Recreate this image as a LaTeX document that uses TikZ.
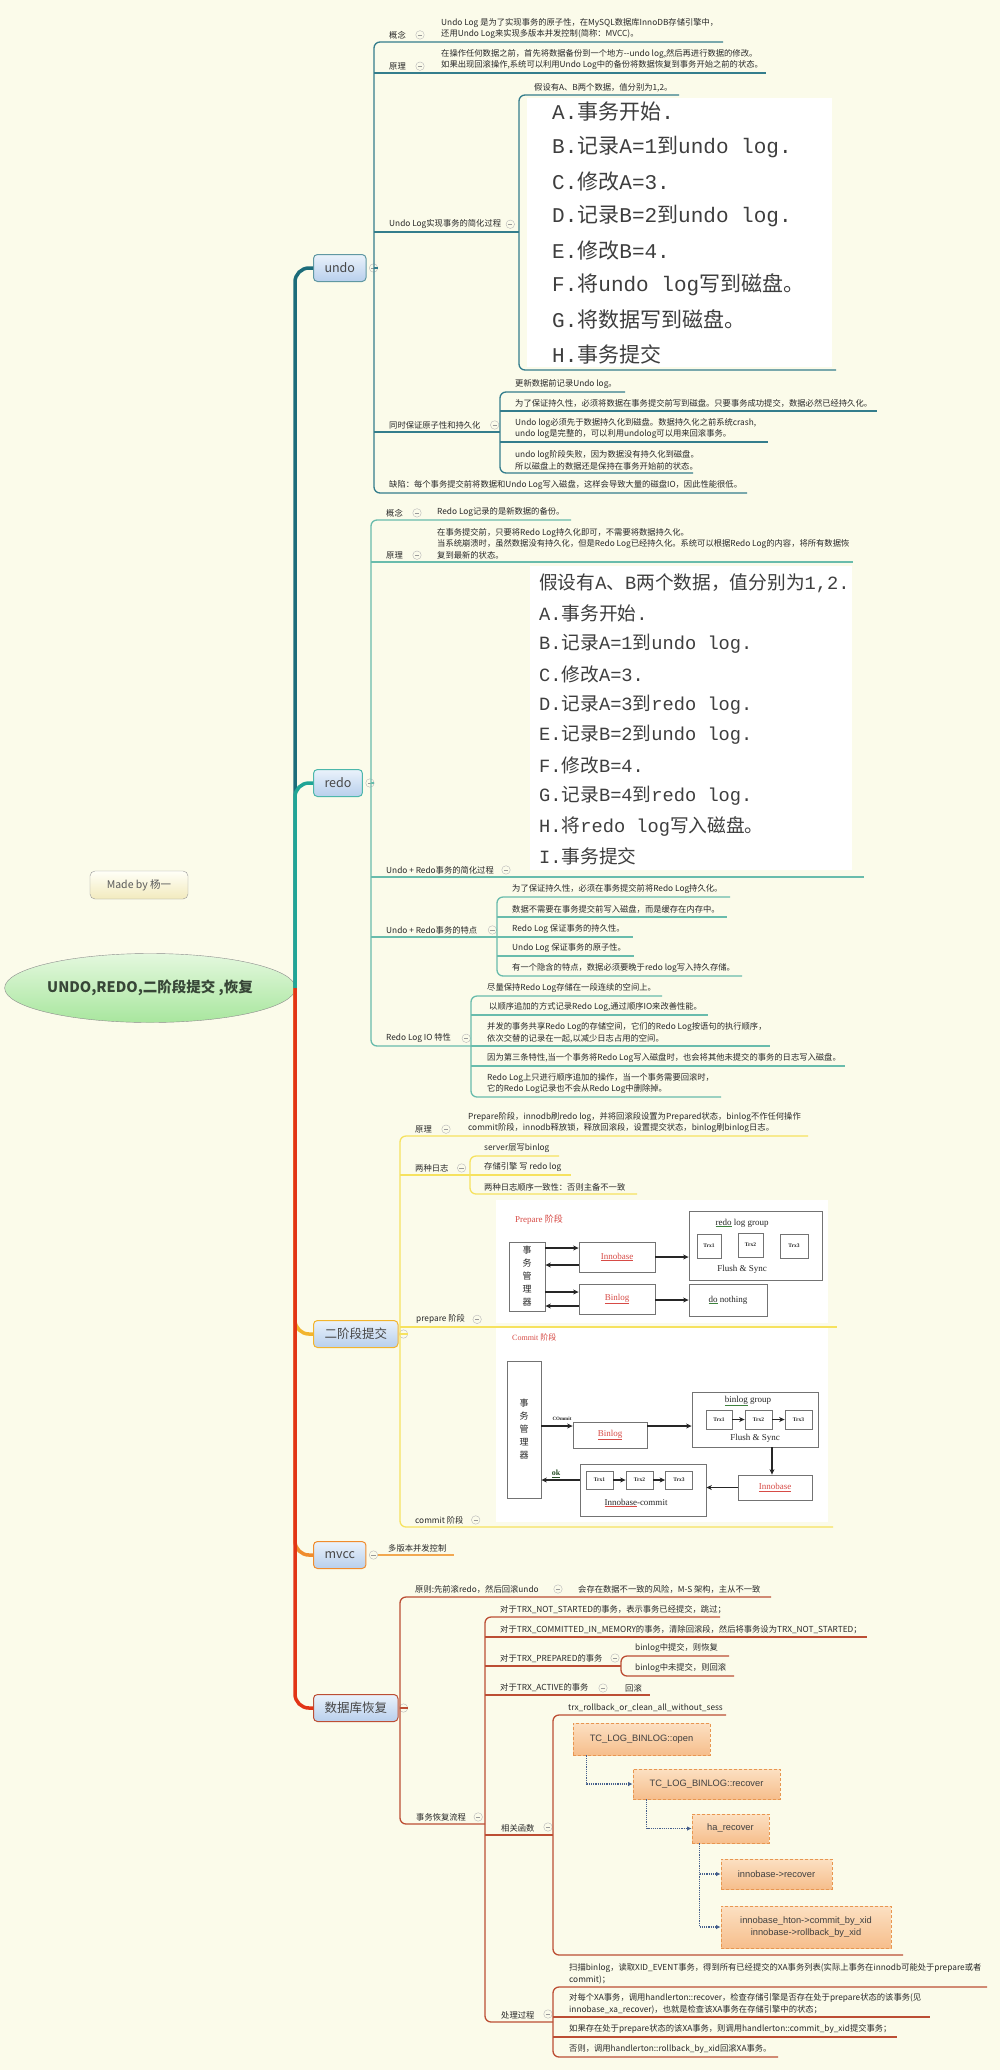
\documentclass[tikz,border=0pt]{standalone}
\usepackage{fontspec}
\setmainfont{Noto Sans CJK SC}
\newfontfamily\fmono{Liberation Mono}
\newfontfamily\fserif{Liberation Serif}
\newfontfamily\fsans{Liberation Sans}
\usetikzlibrary{arrows.meta,shapes.geometric,calc}
\newcommand\mt[1]{{\fmono #1}}
\definecolor{bg}{RGB}{251,251,234}
\definecolor{undoM}{RGB}{28,108,122}
\definecolor{redoM}{RGB}{32,165,150}
\definecolor{twoM}{RGB}{242,180,45}
\definecolor{mvccM}{RGB}{240,140,45}
\definecolor{recM}{RGB}{226,52,22}
\definecolor{undoL}{RGB}{52,125,140}
\definecolor{redoL}{RGB}{105,188,172}
\definecolor{twoL}{RGB}{246,226,95}
\definecolor{mvccL}{RGB}{242,168,80}
\definecolor{recL}{RGB}{188,78,52}
\definecolor{txt}{RGB}{40,40,40}
\definecolor{bigtxt}{RGB}{62,62,62}
\definecolor{redtxt}{RGB}{215,75,70}
\definecolor{grnul}{RGB}{60,130,60}
\definecolor{mtop}{RGB}{234,242,251}
\definecolor{mbot}{RGB}{184,207,236}
\definecolor{ftop}{RGB}{252,224,194}
\definecolor{fbot}{RGB}{246,190,140}
\definecolor{fbord}{RGB}{232,150,80}
\definecolor{fconn}{RGB}{70,95,140}
\newcommand\gul[1]{\rlap{\color{grnul}\underline{\phantom{#1}}}#1}
\newcommand\rul[1]{{\color{redtxt}\underline{#1}}}
\tikzset{
 brl/.style={draw=#1, line width=1.3pt},
 lf/.style={anchor=south west, inner sep=0pt, align=left, font=\fontsize{8.3}{11.5}\selectfont, text=txt},
 cl/.style={circle, draw=black!28, fill=bg, minimum size=8.5pt, inner sep=0pt, path picture={\draw[black!40, line width=0.6pt] ([xshift=-2.2pt]path picture bounding box.center) -- ([xshift=2.2pt]path picture bounding box.center);}},
 mn/.style={anchor=west, rounded corners=4pt, line width=1pt, minimum height=27pt, inner xsep=11pt, top color=mtop, bottom color=mbot, font=\fontsize{12.5}{14}\selectfont, text=black!72},
 mainl/.style={line width=3.5pt, rounded corners=14pt},
 bigu/.style={anchor=west, inner sep=0pt, font=\fontsize{21}{25}\selectfont, text=bigtxt},
 bigr/.style={anchor=west, inner sep=0pt, font=\fontsize{18.7}{22}\selectfont, text=bigtxt},
 img/.style={anchor=north west, fill=white, inner sep=0pt},
 db/.style={draw=black!55, line width=0.8pt, fill=white, inner sep=0pt, font=\fserif\fontsize{9}{11}\selectfont, text=black!85},
 trx/.style={db, font=\fserif\bfseries\fontsize{5.5}{6}\selectfont},
 dtxt/.style={inner sep=0pt, font=\fserif\fontsize{9}{11}\selectfont, text=black!85},
 arr/.style={line width=1.3pt, draw=black!85, -{Stealth[length=5.5pt,width=5pt]}},
 fb/.style={draw=fbord, densely dashed, line width=0.8pt, top color=ftop, bottom color=fbot, inner sep=0pt, font=\fsans\fontsize{9.3}{11.5}\selectfont, text=black!75, align=center},
 fc/.style={draw=fconn, densely dotted, line width=1.2pt, -{Latex[length=4.5pt,width=4.5pt]}},
}
\begin{document}
\begin{tikzpicture}[x=1pt,y=-1pt]
\fill[bg] (0,0) rectangle (1000,2070);
\useasboundingbox (0,0) rectangle (1000,2070);

% ---------- root ----------
\node[draw=black!40, rounded corners=5pt, top color=white!60!yellow!8, bottom color={rgb,255:red,242;green,234;blue,190}, minimum width=98pt, minimum height=28pt, inner sep=0pt, font=\fontsize{10.5}{12}\selectfont, text=black!65] (made) at (139,885) {Made by 杨一};
\node[ellipse, draw=black!45, top color={rgb,255:red,228;green,248;blue,222}, bottom color={rgb,255:red,168;green,230;blue,158}, minimum width=274pt, minimum height=69pt, inner sep=0pt, font=\bfseries\fontsize{14.5}{16}\selectfont, text={rgb,255:red,55;green,70;blue,55}] (root) at (150,988) {UNDO,REDO,二阶段提交 ,恢复};
\coordinate (J) at (295,988);

% ---------- main nodes ----------
\node[mn, draw=undoM!70] (undo) at (313,268) {undo};
\node[mn, draw=redoM!80] (redo) at (313,783) {redo};
\node[mn, draw=twoM] (two) at (313,1334) {二阶段提交};
\node[mn, draw=mvccM] (mvcc) at (313,1555) {mvcc};
\node[mn, draw=recL] (rec) at (313,1708) {数据库恢复};

\draw[gray, line width=0.8pt] (root.east) -- (J);
\draw[mainl, undoM] (J) -- (295,268) -- (undo.west);
\draw[mainl, redoM] (J) -- (295,783) -- (redo.west);
\draw[mainl, twoM] (J) -- (295,1334) -- (two.west);
\draw[mainl, mvccM] (J) -- (295,1555) -- (mvcc.west);
\draw[mainl, recM] (J) -- (295,1708) -- (rec.west);

\node[cl] (undoc) at ([xshift=7pt]undo.east) {};
\node[cl] (redoc) at ([xshift=7pt]redo.east) {};
\node[cl] (twoc) at ([xshift=5pt]two.east) {};
\node[cl] (mvccc) at ([xshift=7pt]mvcc.east) {};
\node[cl] (recc) at ([xshift=5pt]rec.east) {};

% ================= UNDO =================
\draw[brl=undoL] (undoc.east) -- (374,268);
\draw[brl=undoL, rounded corners=6pt] (723,42) -- (374,42) -- (374,493) -- (747,493);
\draw[brl=undoL] (374,73) -- (766,73);
\draw[brl=undoL] (374,232) -- (519,232);
\draw[brl=undoL] (374,432) -- (500,432);

\node[lf] (u1l) at (389,39) {概念};
\node[cl] (u1c) at ([xshift=14pt]u1l.east) {};
\node[lf] (u1t) at (441,39) {Undo Log 是为了实现事务的原子性，在MySQL数据库InnoDB存储引擎中，\\还用Undo Log来实现多版本并发控制(简称：MVCC)。};
\node[lf] (u2l) at (389,70) {原理};
\node[cl] (u2c) at ([xshift=14pt]u2l.east) {};
\node[lf] (u2t) at (441,70) {在操作任何数据之前，首先将数据备份到一个地方-{}-undo log,然后再进行数据的修改。\\如果出现回滚操作,系统可以利用Undo Log中的备份将数据恢复到事务开始之前的状态。};

\node[lf] (u3l) at (389,229) {Undo Log实现事务的简化过程};
\node[cl] (u3c) at ([xshift=9pt]u3l.east) {};
\node[img, minimum width=305pt, minimum height=269pt] (uimg) at (527,98) {};
\draw[brl=undoL, rounded corners=6pt] (679,95) -- (519,95) -- (519,370) -- (836,370);
\node[lf] (u3a) at (534,92) {假设有A、B两个数据，值分别为1,2。};
\node[bigu] (ub1) at (552,112) {\mt{A.}事务开始\mt{.}};
\node[bigu] (ub2) at (552,146.6) {\mt{B.}记录\mt{A=1}到\mt{undo log.}};
\node[bigu] (ub3) at (552,181.2) {\mt{C.}修改\mt{A=3.}};
\node[bigu] (ub4) at (552,215.8) {\mt{D.}记录\mt{B=2}到\mt{undo log.}};
\node[bigu] (ub5) at (552,250.4) {\mt{E.}修改\mt{B=4.}};
\node[bigu] (ub6) at (552,285) {\mt{F.}将\mt{undo log}写到磁盘。};
\node[bigu] (ub7) at (552,319.6) {\mt{G.}将数据写到磁盘。};
\node[bigu] (ub8) at (552,354.2) {\mt{H.}事务提交};

\node[lf] (u4l) at (389,429) {同时保证原子性和持久化};
\node[cl] (u4c) at ([xshift=14pt]u4l.east) {};
\draw[brl=undoL, rounded corners=6pt] (625,392) -- (500,392) -- (500,473) -- (693,473);
\draw[brl=undoL] (500,411) -- (877,411);
\draw[brl=undoL] (500,442) -- (768,442);
\node[lf] (u4a) at (515,389) {更新数据前记录Undo log。};
\node[lf] (u4b) at (515,408) {为了保证持久性，必须将数据在事务提交前写到磁盘。只要事务成功提交，数据必然已经持久化。};
\node[lf] (u4d) at (515,439) {Undo log必须先于数据持久化到磁盘。数据持久化之前系统crash,\\undo log是完整的，可以利用undolog可以用来回滚事务。};
\node[lf] (u4e) at (515,470) {undo log阶段失败，因为数据没有持久化到磁盘。\\所以磁盘上的数据还是保持在事务开始前的状态。};
\node[lf] (u5) at (389,490) {缺陷：每个事务提交前将数据和Undo Log写入磁盘，这样会导致大量的磁盘IO，因此性能很低。};

% ================= REDO =================
\draw[brl=redoL] (redoc.east) -- (371,783);
\draw[brl=redoL, rounded corners=6pt] (571,520) -- (371,520) -- (371,1046) -- (471,1046);
\draw[brl=redoL] (371,562) -- (853,562);
\node[img, minimum width=322pt, minimum height=304pt] (rimg) at (530,566) {};
\draw[brl=redoL] (371,877) -- (864,877);
\draw[brl=redoL] (371,937) -- (497,937);

\node[lf] (r1l) at (386,517) {概念};
\node[cl] (r1c) at ([xshift=14pt]r1l.east) {};
\node[lf] (r1t) at (437,517) {Redo Log记录的是新数据的备份。};
\node[lf] (r2l) at (386,559) {原理};
\node[cl] (r2c) at ([xshift=14pt]r2l.east) {};
\node[lf] (r2t) at (437,559) {在事务提交前，只要将Redo Log持久化即可，不需要将数据持久化。\\当系统崩溃时，虽然数据没有持久化，但是Redo Log已经持久化。系统可以根据Redo Log的内容，将所有数据恢\\复到最新的状态。};

\node[bigr] (rb1) at (539,583) {假设有\mt{A}、\mt{B}两个数据，值分别为\mt{1,2.}};
\node[bigr] (rb2) at (539,613.4) {\mt{A.}事务开始\mt{.}};
\node[bigr] (rb3) at (539,643.8) {\mt{B.}记录\mt{A=1}到\mt{undo log.}};
\node[bigr] (rb4) at (539,674.2) {\mt{C.}修改\mt{A=3.}};
\node[bigr] (rb5) at (539,704.6) {\mt{D.}记录\mt{A=3}到\mt{redo log.}};
\node[bigr] (rb6) at (539,735) {\mt{E.}记录\mt{B=2}到\mt{undo log.}};
\node[bigr] (rb7) at (539,765.4) {\mt{F.}修改\mt{B=4.}};
\node[bigr] (rb8) at (539,795.8) {\mt{G.}记录\mt{B=4}到\mt{redo log.}};
\node[bigr] (rb9) at (539,826.2) {\mt{H.}将\mt{redo log}写入磁盘。};
\node[bigr] (rb10) at (539,856.6) {\mt{I.}事务提交};
\node[lf] (r3l) at (386,874) {Undo + Redo事务的简化过程};
\node[cl] (r3c) at ([xshift=12pt]r3l.east) {};

\node[lf] (r4l) at (386,934) {Undo + Redo事务的特点};
\node[cl] (r4c) at ([xshift=15pt]r4l.east) {};
\draw[brl=redoL, rounded corners=6pt] (730,897) -- (497,897) -- (497,976) -- (742,976);
\draw[brl=redoL] (497,917) -- (727,917);
\draw[brl=redoL] (497,937) -- (633,937);
\draw[brl=redoL] (497,956) -- (634,956);
\node[lf] (r4a) at (512,894) {为了保证持久性，必须在事务提交前将Redo Log持久化。};
\node[lf] (r4b) at (512,914) {数据不需要在事务提交前写入磁盘，而是缓存在内存中。};
\node[lf] (r4d) at (512,934) {Redo Log 保证事务的持久性。};
\node[lf] (r4e) at (512,953) {Undo Log 保证事务的原子性。};
\node[lf] (r4f) at (512,973) {有一个隐含的特点，数据必须要晚于redo log写入持久存储。};

\node[lf] (r5l) at (386,1043) {Redo Log IO 特性};
\node[cl] (r5c) at ([xshift=15pt]r5l.east) {};
\draw[brl=redoL, rounded corners=6pt] (662,996) -- (471,996) -- (471,1097) -- (721,1097);
\draw[brl=redoL] (471,1015) -- (708,1015);
\draw[brl=redoL] (471,1046) -- (770,1046);
\draw[brl=redoL] (471,1066) -- (845,1066);
\node[lf] (r5a) at (487,993) {尽量保持Redo Log存储在一段连续的空间上。};
\node[lf] (r5b) at (489,1012) {以顺序追加的方式记录Redo Log,通过顺序IO来改善性能。};
\node[lf] (r5d) at (487,1043) {并发的事务共享Redo Log的存储空间，它们的Redo Log按语句的执行顺序，\\依次交替的记录在一起,以减少日志占用的空间。};
\node[lf] (r5e) at (487,1063) {因为第三条特性,当一个事务将Redo Log写入磁盘时，也会将其他未提交的事务的日志写入磁盘。};
\node[lf] (r5f) at (487,1094) {Redo Log上只进行顺序追加的操作，当一个事务需要回滚时，\\它的Redo Log记录也不会从Redo Log中删除掉。};

% ================= TWO-PHASE =================
\draw[brl=twoL] (twoc.east) -- (400,1334);
\draw[brl=twoL, rounded corners=6pt] (808,1136) -- (400,1136) -- (400,1527) -- (833,1527);
\draw[brl=twoL] (400,1175) -- (470,1175);
\draw[brl=twoL] (400,1327) -- (837,1327);
\node[lf] (t1l) at (415,1133) {原理};
\node[cl] (t1c) at ([xshift=14pt]t1l.east) {};
\node[lf] (t1t) at (468,1133) {Prepare阶段，innodb刷redo log，并将回滚段设置为Prepared状态，binlog不作任何操作\\commit阶段，innodb释放锁，释放回滚段，设置提交状态，binlog刷binlog日志。};
\node[lf] (t2l) at (415,1172) {两种日志};
\node[cl] (t2c) at ([xshift=13pt]t2l.east) {};
\draw[brl=twoL, rounded corners=6pt] (559,1156) -- (470,1156) -- (470,1194) -- (637,1194);
\draw[brl=twoL] (470,1175) -- (571,1175);
\node[lf] (t2a) at (484,1153) {server层写binlog};
\node[lf] (t2b) at (484,1172) {存储引擎 写 redo log};
\node[lf] (t2d) at (484,1191) {两种日志顺序一致性：否则主备不一致};
\node[lf] (t3l) at (416,1324) {prepare 阶段};
\node[cl] (t3c) at ([xshift=12pt]t3l.east) {};
\node[lf] (t4l) at (415,1524) {commit 阶段};
\node[cl] (t4c) at ([xshift=12pt]t4l.east) {};

% ---- prepare picture ----
\node[img, minimum width=332pt, minimum height=123pt] (pimg) at (496,1200) {};
\node[dtxt, anchor=west, text=redtxt] (ptitle) at (515,1220) {Prepare {\rmfamily 阶段}};
\node[db, minimum width=36pt, minimum height=69pt, align=center, font=\fontsize{9}{13}\selectfont] (pm) at (527,1276.5) {事\\务\\管\\理\\器};
\node[db, minimum width=76pt, minimum height=30pt] (pinno) at (617,1257) {\rul{Innobase}};
\node[db, minimum width=76pt, minimum height=30pt] (pbin) at (617,1299) {\rul{Binlog}};
\node[db, minimum width=133pt, minimum height=69pt] (pgrp) at (755.5,1245.5) {};
\node[dtxt] (pgt) at (742,1223) {\gul{redo} log group};
\node[trx, minimum width=24pt, minimum height=24pt] (ptr1) at (709,1246) {Trx1};
\node[trx, minimum width=25pt, minimum height=24pt] (ptr2) at (750.5,1245) {Trx2};
\node[trx, minimum width=28pt, minimum height=24pt] (ptr3) at (794,1246) {Trx3};
\node[dtxt] (pfs) at (742,1269) {Flush \& Sync};
\node[db, minimum width=78pt, minimum height=32pt] (pdo) at (728,1300) {\gul{do} nothing};
\draw[arr] (pm.east |- 0,1248) -- (pinno.west |- 0,1248);
\draw[arr] (pinno.west |- 0,1265) -- (pm.east |- 0,1265);
\draw[arr] (pinno.east |- 0,1257) -- (pgrp.west |- 0,1257);
\draw[arr] (pm.east |- 0,1292) -- (pbin.west |- 0,1292);
\draw[arr] (pbin.west |- 0,1306) -- (pm.east |- 0,1306);
\draw[arr] (pbin.east |- 0,1300) -- (pdo.west |- 0,1300);

% ---- commit picture ----
\node[img, minimum width=332pt, minimum height=194pt] (cimg) at (496,1328) {};
\node[dtxt, anchor=west, text=redtxt, font=\fserif\fontsize{8}{10}\selectfont] (ctitle) at (512,1337) {Commit {\rmfamily 阶段}};
\node[db, minimum width=34pt, minimum height=137pt, align=center, font=\fontsize{9}{13}\selectfont] (cm) at (524,1429.5) {事\\务\\管\\理\\器};
\node[db, minimum width=74pt, minimum height=26pt] (cbin) at (610,1435) {\rul{Binlog}};
\node[db, minimum width=126pt, minimum height=55pt] (cgrp) at (755,1419.5) {};
\node[dtxt] (cgt) at (748,1401) {\gul{binlog} group};
\node[trx, minimum width=26pt, minimum height=19pt] (ctr1) at (719,1419.5) {Trx1};
\node[trx, minimum width=27pt, minimum height=19pt] (ctr2) at (758.5,1419.5) {Trx2};
\node[trx, minimum width=27pt, minimum height=19pt] (ctr3) at (798.5,1419.5) {Trx3};
\node[dtxt] (cfs) at (755,1438) {Flush \& Sync};
\node[db, minimum width=74pt, minimum height=25pt] (cinno) at (775,1487.5) {\rul{Innobase}};
\node[db, minimum width=126pt, minimum height=52pt] (cic) at (643,1490) {};
\node[trx, minimum width=27pt, minimum height=18pt] (ctr4) at (599.5,1480) {Trx1};
\node[trx, minimum width=27pt, minimum height=18pt] (ctr5) at (639.5,1480) {Trx2};
\node[trx, minimum width=27pt, minimum height=18pt] (ctr6) at (679,1480) {Trx3};
\node[dtxt] (cict) at (636,1503) {\rul{\color{black!85}Innobase}-commit};
\node[inner sep=0pt, font=\fserif\bfseries\fontsize{5}{6}\selectfont, text=black!85] (ccom) at (562,1419) {COmmit};
\node[inner sep=0pt, font=\fserif\bfseries\fontsize{8}{9}\selectfont, text={rgb,255:red,40;green,80;blue,40}] (cok) at (556,1474) {\underline{ok}};
\draw[arr] (cm.east |- 0,1426) -- (cbin.west |- 0,1426);
\draw[arr] (cbin.east |- 0,1426) -- (cgrp.west |- 0,1426);
\draw[arr] (ctr1) -- (ctr2);
\draw[arr] (ctr2) -- (ctr3);
\draw[arr] (cgrp.south -| 772,0) -- (cinno.north -| 772,0);
\draw[arr] (cinno.west) -- (cic.east |- cinno.west);
\draw[arr] (ctr4) -- (ctr5);
\draw[arr] (ctr5) -- (ctr6);
\draw[arr] (cic.west |- 0,1480) -- (cm.east |- 0,1480);

% ================= MVCC =================
\draw[brl=mvccL] (mvccc.east) -- (454,1555);
\node[lf] (mv1) at (388,1552) {多版本并发控制};

% ================= RECOVERY =================
\draw[brl=recL] (recc.east) -- (400,1708);
\draw[brl=recL, rounded corners=6pt] (771,1597) -- (400,1597) -- (400,1824) -- (485,1824);
\node[lf] (e1l) at (415,1594) {原则:先前滚redo，然后回滚undo};
\node[cl] (e1c) at (558,1589) {};
\node[lf] (e1t) at (578,1594) {会存在数据不一致的风险，M-S 架构，主从不一致};
\node[lf] (e2l) at (416,1821) {事务恢复流程};
\node[cl] (e2c) at ([xshift=12pt]e2l.east) {};
\draw[brl=recL, rounded corners=6pt] (720,1617) -- (485,1617) -- (485,2022) -- (553,2022);
\draw[brl=recL] (485,1637) -- (867,1637);
\draw[brl=recL] (485,1666) -- (621,1666);
\draw[brl=recL] (485,1695) -- (650,1695);
\draw[brl=recL] (485,1835) -- (553,1835);
\node[lf] (e2a) at (500,1614) {对于TRX\_NOT\_STARTED的事务，表示事务已经提交，跳过；};
\node[lf] (e2b) at (500,1634) {对于TRX\_COMMITTED\_IN\_MEMORY的事务，清除回滚段，然后将事务设为TRX\_NOT\_STARTED；};
\node[lf] (e2d) at (500,1663) {对于TRX\_PREPARED的事务};
\node[cl] (e2dc) at (615,1658) {};
\draw[brl=recL, rounded corners=6pt] (729,1656) -- (621,1656) -- (621,1676) -- (734,1676);
\node[lf] (e2d1) at (635,1653) {binlog中提交，则恢复};
\node[lf] (e2d2) at (635,1673) {binlog中未提交，则回滚};
\node[lf] (e2e) at (500,1692) {对于TRX\_ACTIVE的事务};
\node[cl] (e2ec) at (603,1688) {};
\node[lf] (e2e1) at (625,1692) {回滚};

\node[lf] (e2f) at (501,1832) {相关函数};
\node[cl] (e2fc) at (548,1827) {};
\draw[brl=recL, rounded corners=6pt] (726,1715) -- (553,1715) -- (553,1955) -- (903,1955);
\node[lf] (e2f1) at (568,1712) {trx\_rollback\_or\_clean\_all\_without\_sess};
\node[fb, minimum width=137pt, minimum height=32pt] (fopen) at (641.5,1739) {TC\_LOG\_BINLOG::open};
\node[fb, minimum width=147pt, minimum height=30pt] (frec) at (706.5,1784) {TC\_LOG\_BINLOG::recover};
\node[fb, minimum width=77pt, minimum height=29pt] (fha) at (730.5,1828.5) {ha\_recover};
\node[fb, minimum width=111pt, minimum height=30pt] (finr) at (776.5,1874) {innobase->recover};
\node[fb, minimum width=170pt, minimum height=42pt] (fhton) at (806,1927) {innobase\_hton->commit\_by\_xid\\innobase->rollback\_by\_xid};
\draw[fc] ([xshift=14pt]fopen.south west) |- (frec.west);
\draw[fc] ([xshift=14pt]frec.south west) |- (fha.west);
\draw[fc] ([xshift=8pt]fha.south west) |- (finr.west);
\draw[fc] ([xshift=8pt]fha.south west) |- (fhton.west);

\node[lf] (e2g) at (501,2019) {处理过程};
\node[cl] (e2gc) at (548,2014) {};
\draw[brl=recL, rounded corners=6pt] (987,1987) -- (553,1987) -- (553,2057) -- (778,2057);
\draw[brl=recL] (553,2017) -- (930,2017);
\draw[brl=recL] (553,2037) -- (897,2037);
\node[lf] (e2g1) at (569,1984) {扫描binlog，读取XID\_EVENT事务，得到所有已经提交的XA事务列表(实际上事务在innodb可能处于prepare或者\\commit)；};
\node[lf] (e2g2) at (569,2014) {对每个XA事务，调用handlerton::recover，检查存储引擎是否存在处于prepare状态的该事务(见\\innobase\_xa\_recover)，也就是检查该XA事务在存储引擎中的状态；};
\node[lf] (e2g3) at (569,2034) {如果存在处于prepare状态的该XA事务，则调用handlerton::commit\_by\_xid提交事务；};
\node[lf] (e2g4) at (569,2054) {否则，调用handlerton::rollback\_by\_xid回滚XA事务。};
\end{tikzpicture}
\end{document}
